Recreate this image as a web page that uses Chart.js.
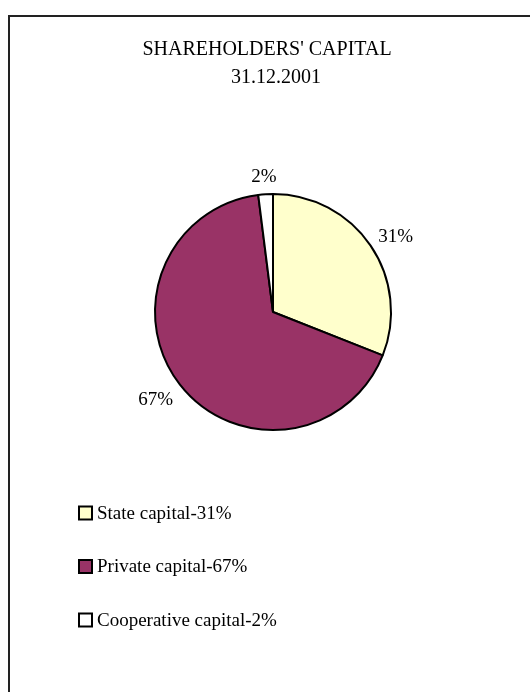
<!DOCTYPE html>
<html lang="en">

<head>
    <meta charset="UTF-8">
    <title>Shareholders' capital</title>
    <script src="https://cdn.jsdelivr.net/npm/chart.js"></script>
    <style>
        body { margin: 0; background: #fff; }
    </style>
</head>

<body>

    <canvas id="chartCapital" width="530" height="692"></canvas>

    <script>
        const titleLines = ["SHAREHOLDERS' CAPITAL", '31.12.2001'];
        const categories = ['State capital-31%', 'Private capital-67%', 'Cooperative capital-2%'];
        const shares = [31, 67, 2];

        const sliceColors = ['#FFFFCC', '#993366', '#FFFFFF'];
        const FONT = '19px "Liberation Serif", "Times New Roman", serif';

        // frame, title and legend drawn around the pie
        const decorations = {
            id: 'decorations',
            beforeDraw(chart) {
                const ctx = chart.ctx;
                ctx.save();
                ctx.fillStyle = '#fff';
                ctx.fillRect(0, 0, chart.width, chart.height);
                ctx.strokeStyle = '#222';
                ctx.lineWidth = 2;
                ctx.beginPath();
                ctx.moveTo(9, chart.height + 5);
                ctx.lineTo(9, 16);
                ctx.lineTo(chart.width + 5, 16);
                ctx.stroke();

                ctx.fillStyle = '#000';
                ctx.font = '20px "Liberation Serif", "Times New Roman", serif';
                ctx.textAlign = 'center';
                ctx.textBaseline = 'middle';
                ctx.fillText(titleLines[0], 267, 50);
                ctx.fillText(titleLines[1], 276, 78);
                ctx.restore();
            },
            afterDraw(chart) {
                const ctx = chart.ctx;
                const ds = chart.data.datasets[0];
                ctx.save();
                ctx.font = FONT;
                ctx.textBaseline = 'middle';
                ctx.textAlign = 'left';
                chart.data.labels.forEach((label, i) => {
                    const y = 513 + i * 53.5;
                    ctx.fillStyle = ds.backgroundColor[i];
                    ctx.fillRect(79, y - 6.5, 13, 13);
                    ctx.strokeStyle = '#000';
                    ctx.lineWidth = 2;
                    ctx.strokeRect(79, y - 6.5, 13, 13);
                    ctx.fillStyle = '#000';
                    ctx.fillText(label, 97, y + 1);
                });

                // percentage labels just outside each slice
                ctx.textAlign = 'center';
                const meta = chart.getDatasetMeta(0);
                meta.data.forEach((arc, i) => {
                    const text = ds.data[i] + '%';
                    const w = ctx.measureText(text).width;
                    const mid = (arc.startAngle + arc.endAngle) / 2;
                    const dx = Math.cos(mid), dy = Math.sin(mid);
                    const r = arc.outerRadius + 13;
                    const x = arc.x + dx * r + dx * w / 2;
                    const y = arc.y + dy * r + dy * 7 + 3;
                    ctx.fillText(text, x, y);
                });
                ctx.restore();
            }
        };

        new Chart(document.getElementById('chartCapital').getContext('2d'), {
            type: 'pie',
            data: {
                labels: categories,
                datasets: [{
                    data: shares,
                    backgroundColor: sliceColors,
                    borderColor: '#000',
                    borderWidth: 2
                }]
            },
            options: {
                responsive: false,
                animation: false,
                layout: {
                    padding: { left: 154, right: 138, top: 193, bottom: 261 }
                },
                plugins: {
                    legend: { display: false },
                    title: { display: false },
                    tooltip: { enabled: false }
                }
            },
            plugins: [decorations]
        });
    </script>

</body>

</html>
